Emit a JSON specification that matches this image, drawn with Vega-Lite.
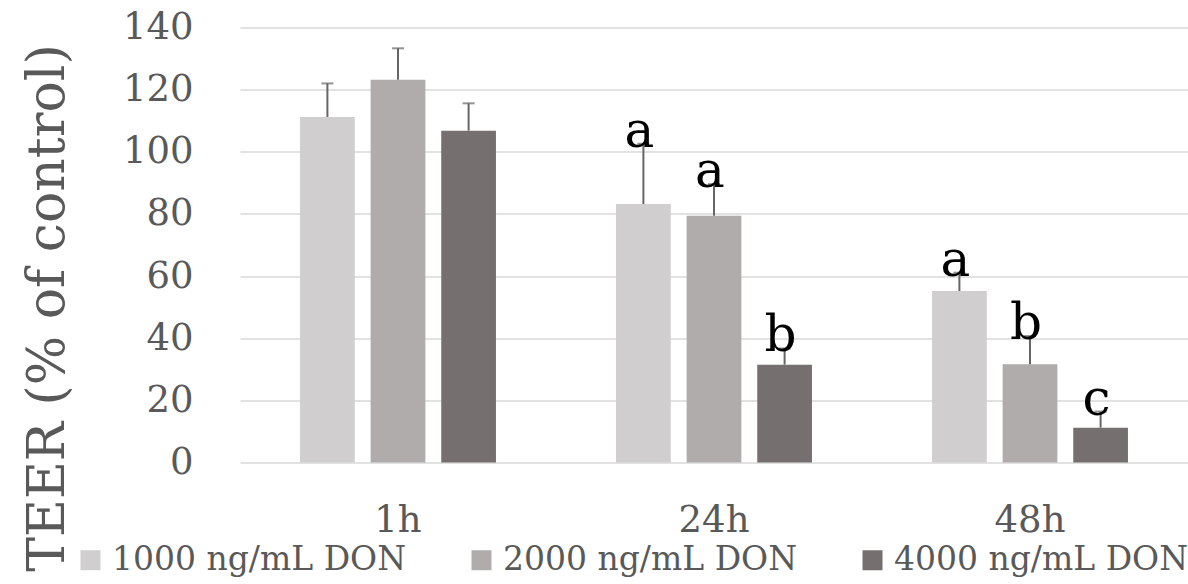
{
  "$schema": "https://vega.github.io/schema/vega-lite/v6.json",
  "width": 948,
  "height": 435,
  "autosize": {"type": "none"},
  "padding": {"left": 240, "top": 27.5, "right": 0, "bottom": 121.5},
  "background": "white",
  "config": {"font": "DejaVu Serif", "view": {"stroke": null}},
  "data": {
    "values": [
      {"time": "1h", "dose": "1000 ng/mL DON", "value": 111.2, "err": 122.0, "letter": ""},
      {"time": "1h", "dose": "2000 ng/mL DON", "value": 123.2, "err": 133.3, "letter": ""},
      {"time": "1h", "dose": "4000 ng/mL DON", "value": 106.8, "err": 115.6, "letter": ""},
      {"time": "24h", "dose": "1000 ng/mL DON", "value": 83.2, "err": 102.6, "letter": "a"},
      {"time": "24h", "dose": "2000 ng/mL DON", "value": 79.4, "err": 89.6, "letter": "a"},
      {"time": "24h", "dose": "4000 ng/mL DON", "value": 31.5, "err": 36.7, "letter": "b"},
      {"time": "48h", "dose": "1000 ng/mL DON", "value": 55.2, "err": 61.1, "letter": "a"},
      {"time": "48h", "dose": "2000 ng/mL DON", "value": 31.6, "err": 40.7, "letter": "b"},
      {"time": "48h", "dose": "4000 ng/mL DON", "value": 11.2, "err": 16.4, "letter": "c"}
    ]
  },
  "encoding": {
    "x": {
      "field": "time", "type": "nominal", "sort": ["1h", "24h", "48h"],
      "scale": {"paddingInner": 0.38, "paddingOuter": 0.19},
      "axis": {"title": null, "domain": false, "ticks": false, "labelAngle": 0, "labelFontSize": 37, "labelColor": "#595959", "labelPadding": 40, "labelBaseline": "top"}
    },
    "xOffset": {
      "field": "dose", "type": "nominal", "sort": ["1000 ng/mL DON", "2000 ng/mL DON", "4000 ng/mL DON"],
      "scale": {"paddingInner": 0.225, "paddingOuter": 0}
    }
  },
  "layer": [
    {
      "mark": {"type": "bar"},
      "encoding": {
        "y": {
          "field": "value", "type": "quantitative",
          "scale": {"domain": [0, 140], "nice": false},
          "axis": {
            "values": [0, 20, 40, 60, 80, 100, 120, 140],
            "grid": true, "gridColor": "#d9d9d9", "gridWidth": 1.5,
            "domain": false, "ticks": false,
            "labelFontSize": 37, "labelColor": "#595959", "labelPadding": 47,
            "title": "TEER (% of control)", "titleFontSize": 52, "titleFontWeight": "normal",
            "titleColor": "#595959", "titleAngle": -90, "titleX": -177, "titleY": 280,
            "titleAlign": "center", "titleBaseline": "alphabetic"
          }
        },
        "color": {
          "field": "dose", "type": "nominal",
          "sort": ["1000 ng/mL DON", "2000 ng/mL DON", "4000 ng/mL DON"],
          "scale": {"domain": ["1000 ng/mL DON", "2000 ng/mL DON", "4000 ng/mL DON"], "range": ["#d0cecf", "#afacab", "#75706f"]},
          "legend": {
            "title": null, "orient": "none", "legendX": -166, "legendY": 516, "direction": "horizontal",
            "labelFontSize": 33, "labelColor": "#595959", "labelLimit": 500,
            "symbolType": "square", "symbolSize": 400,
            "symbolStrokeWidth": 0, "columnPadding": 58, "labelOffset": 5
          }
        }
      }
    },
    {
      "mark": {"type": "rule", "color": "#666666", "strokeWidth": 2},
      "encoding": {
        "y": {"field": "value", "type": "quantitative"},
        "y2": {"field": "err"}
      }
    },
    {
      "mark": {"type": "tick", "color": "#666666", "thickness": 2, "size": 12},
      "encoding": {
        "y": {"field": "err", "type": "quantitative"}
      }
    },
    {
      "mark": {"type": "text", "fontSize": 50, "baseline": "alphabetic", "dy": 3, "dx": -4, "color": "#000000"},
      "encoding": {
        "y": {"field": "err", "type": "quantitative"},
        "text": {"field": "letter"}
      }
    }
  ]
}
